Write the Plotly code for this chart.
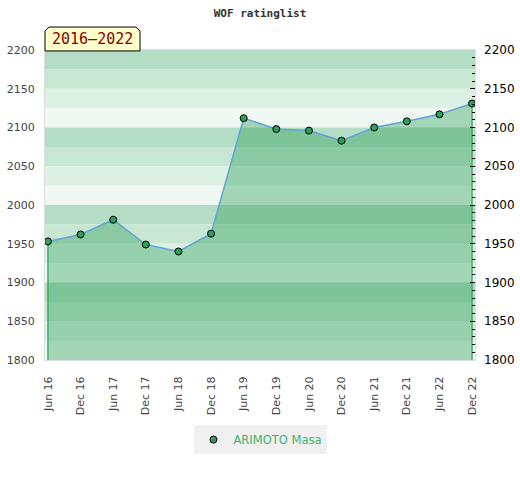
import plotly.graph_objects as go

# rating history
periods = ["Jun 16", "Dec 16", "Jun 17", "Dec 17", "Jun 18", "Dec 18", "Jun 19",
           "Dec 19", "Jun 20", "Dec 20", "Jun 21", "Dec 21", "Jun 22", "Dec 22"]
rating = [1953, 1962, 1981, 1949, 1940, 1963, 2112,
          2098, 2096, 2083, 2100, 2108, 2117, 2131]
player = "ARIMOTO Masa"
y_ticks = [1800, 1850, 1900, 1950, 2000, 2050, 2100, 2150, 2200]

y_lo, y_hi = 1800, 2200
band_colors = ["#b3ddc4", "#c8e7d3", "#ddf0e4", "#f0f8f3"]  # top -> bottom in each 100 block

fig = go.Figure()

# filled area under the rating line
fig.add_trace(go.Scatter(
    x=periods, y=rating, mode="lines", fill="tozeroy",
    fillcolor="rgba(46,160,90,0.40)", line=dict(color="#62a3dc", width=1.5),
    showlegend=False, hoverinfo="skip"))

# green edges of the area at both ends
for i in (0, len(periods) - 1):
    fig.add_trace(go.Scatter(
        x=[periods[i], periods[i]], y=[y_lo, rating[i]], mode="lines",
        line=dict(color="#2fa757", width=1.3), showlegend=False, hoverinfo="skip"))

fig.add_trace(go.Scatter(
    x=periods, y=rating, mode="markers", name=player,
    marker=dict(color="#2e9e5a", size=7, line=dict(color="black", width=1))))

# mirror axis on the right
fig.add_trace(go.Scatter(x=periods, y=rating, yaxis="y2", mode="markers",
                         marker=dict(opacity=0), showlegend=False, hoverinfo="skip"))

# horizontal background bands
shapes = []
v = y_hi
k = 0
while v > y_lo:
    shapes.append(dict(type="rect", xref="paper", yref="y", x0=0, x1=1,
                       y0=v - 25, y1=v, fillcolor=band_colors[k % 4],
                       line=dict(width=0), layer="below"))
    v -= 25
    k += 1

# tab-like label box above the plot
bx0, bx1, byb, byt, dx, dy = 0.0, 0.221, 0.997, 1.074, 0.009, 0.013
shapes.append(dict(
    type="path", xref="paper", yref="paper",
    path=f"M {bx0},{byb} L {bx0},{byt-dy} L {bx0+dx},{byt} L {bx1-dx},{byt} "
         f"L {bx1},{byt-dy} L {bx1},{byb} Z",
    fillcolor="#ffffcc", line=dict(color="black", width=1)))

fig.update_layout(
    width=520, height=480,
    margin=dict(l=45, r=45, t=50, b=120, autoexpand=False),
    paper_bgcolor="white", plot_bgcolor="white",
    font=dict(family="DejaVu Sans", size=11, color="#444"),
    title=dict(text="<b>WOF ratinglist</b>", x=0.5, xanchor="center", y=0.973,
               yanchor="middle",
               font=dict(family="DejaVu Sans Mono", size=11, color="#333")),
    shapes=shapes,
    annotations=[dict(text="2016–2022", xref="paper", yref="paper", x=0.11, y=1.036,
                      xanchor="center", yanchor="middle", showarrow=False,
                      font=dict(family="DejaVu Sans Mono", size=15, color="#8b0000"))],
    xaxis=dict(type="category", range=[-0.09, 13.09], tickangle=-90, automargin=False,
               showgrid=False, showline=True, linecolor="#dddddd", mirror=True,
               ticks="", ticklabelstandoff=11,
               tickfont=dict(size=11, color="#444"), fixedrange=True),
    yaxis=dict(range=[y_lo, y_hi], tickvals=y_ticks, showgrid=False, zeroline=False,
               showline=True, linecolor="#dddddd", mirror=True, ticks="",
               automargin=False, ticklabelstandoff=7,
               tickfont=dict(size=11, color="#444")),
    yaxis2=dict(range=[y_lo, y_hi], tickvals=y_ticks, overlaying="y", side="right",
                anchor="x", showgrid=False, zeroline=False, ticks="inside",
                automargin=False, ticklen=5, tickcolor="black", ticklabelstandoff=8,
                tickfont=dict(size=12, color="black"),
                minor=dict(ticks="inside", ticklen=3, dtick=10, tickcolor="black")),
    legend=dict(orientation="h", x=0.5, xanchor="center", y=-0.21, yanchor="top",
                itemwidth=30, bgcolor="#f0f0f0", font=dict(size=11.5, color="#3cb371")),
)

# drop the page's default body margin so the figure sits at the window's corner
fig.write_html("out.html", config={"displayModeBar": False},
               post_script="document.body.style.margin='0';")
